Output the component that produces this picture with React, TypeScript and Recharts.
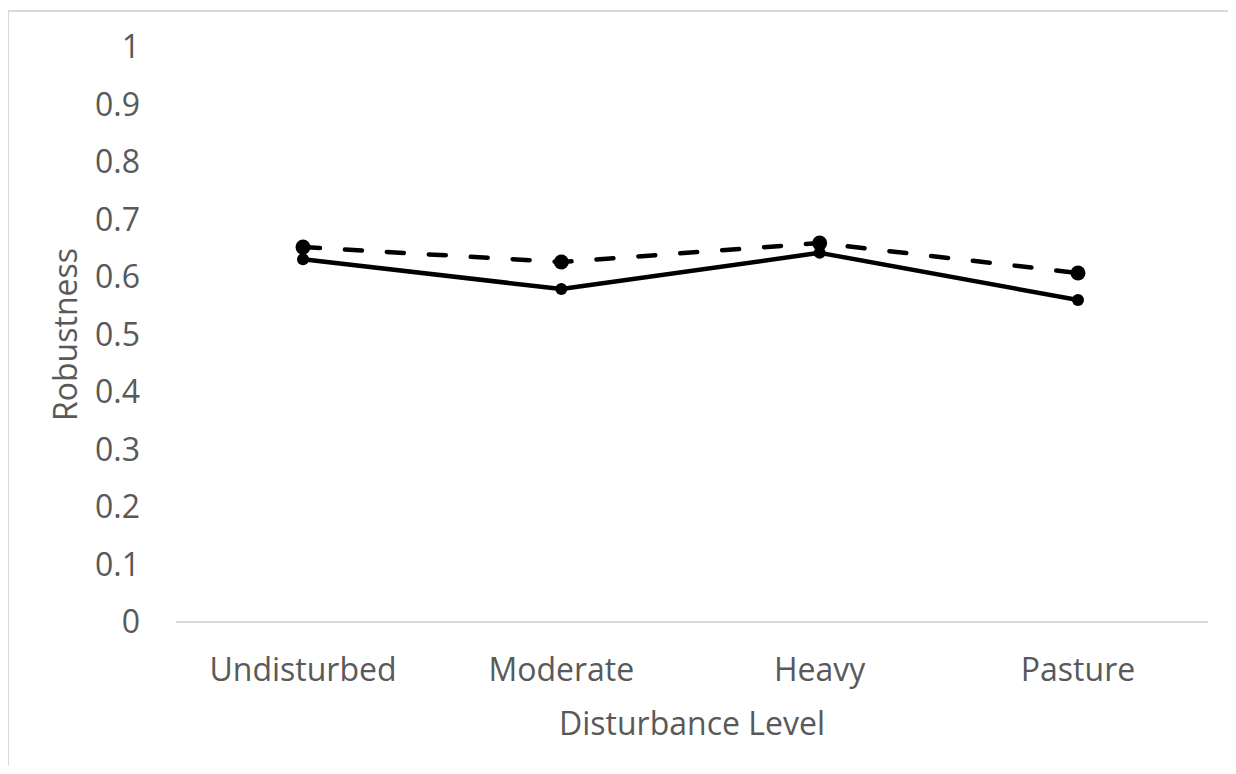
import React from 'react';
import { LineChart, Line, XAxis, YAxis, Label } from 'recharts';

const categories = ['Undisturbed', 'Moderate', 'Heavy', 'Pasture'];
const solidSeries = [0.631, 0.579, 0.642, 0.56];
const dashedSeries = [0.652, 0.626, 0.659, 0.607];
const yTicks = [0, 0.1, 0.2, 0.3, 0.4, 0.5, 0.6, 0.7, 0.8, 0.9, 1];

const data = categories.map((c, i) => ({ category: c, solid: solidSeries[i], dashed: dashedSeries[i] }));

const FONT = 'Open Sans';
const TEXT = '#595959';

const YTitle = (props: any) => {
  const vb = props.viewBox || {};
  const cx = (vb.x || 0) + 69;
  const cy = (vb.y || 0) + (vb.height || 0) / 2;
  return (
    <text x={cx} y={cy} transform={`rotate(-90 ${cx} ${cy})`} textAnchor="middle" fill={TEXT} fontSize={32} fontFamily={FONT}>
      Robustness
    </text>
  );
};

const XTitle = (props: any) => {
  const vb = props.viewBox || {};
  const cx = (vb.x || 0) + (vb.width || 0) / 2;
  const cy = (vb.y || 0) + 112.5;
  return (
    <text x={cx} y={cy} textAnchor="middle" fill={TEXT} fontSize={32} fontFamily={FONT}>
      Disturbance Level
    </text>
  );
};

export default function App() {
  return (
    <div style={{ position: 'relative', width: 1228, height: 758 }}>
      <div
        style={{
          position: 'absolute',
          left: -1,
          top: 2,
          width: 1229,
          height: 762,
          boxSizing: 'border-box',
          borderTop: '2px solid #d9d9d9',
          borderLeft: '2px solid #d9d9d9',
        }}
      />
      <LineChart
        width={1228}
        height={758}
        data={data}
        margin={{ top: 39, right: 28, left: 0, bottom: 0 }}
        style={{ fontFamily: FONT }}
      >
        <XAxis
          dataKey="category"
          height={144}
          padding={{ left: 127, right: 130 }}
          tickLine={false}
          tickSize={0}
          tickMargin={36}
          axisLine={{ stroke: '#d9d9d9', strokeWidth: 2 }}
          tick={{ fill: TEXT, fontSize: 32, fontFamily: FONT }}
          interval={0}
        >
          <Label content={<XTitle />} />
        </XAxis>
        <YAxis
          width={168}
          domain={[0, 1]}
          ticks={yTicks}
          interval={0}
          axisLine={false}
          tickLine={false}
          tickSize={0}
          tickMargin={36}
          tick={{ fill: TEXT, fontSize: 32, fontFamily: FONT }}
          tickFormatter={(v: number) => String(v)}
        >
          <Label content={<YTitle />} />
        </YAxis>
        <Line
          dataKey="solid"
          stroke="#000"
          strokeWidth={4.5}
          strokeLinecap="round"
          strokeLinejoin="round"
          dot={{ r: 6, fill: '#000', stroke: 'none' }}
          activeDot={false}
          isAnimationActive={false}
        />
        <Line
          dataKey="dashed"
          stroke="#000"
          strokeWidth={4.5}
          strokeDasharray="17 25"
          strokeLinecap="round"
          strokeLinejoin="round"
          dot={{ r: 7.5, fill: '#000', stroke: 'none', strokeDasharray: '0' }}
          activeDot={false}
          isAnimationActive={false}
        />
      </LineChart>
    </div>
  );
}
